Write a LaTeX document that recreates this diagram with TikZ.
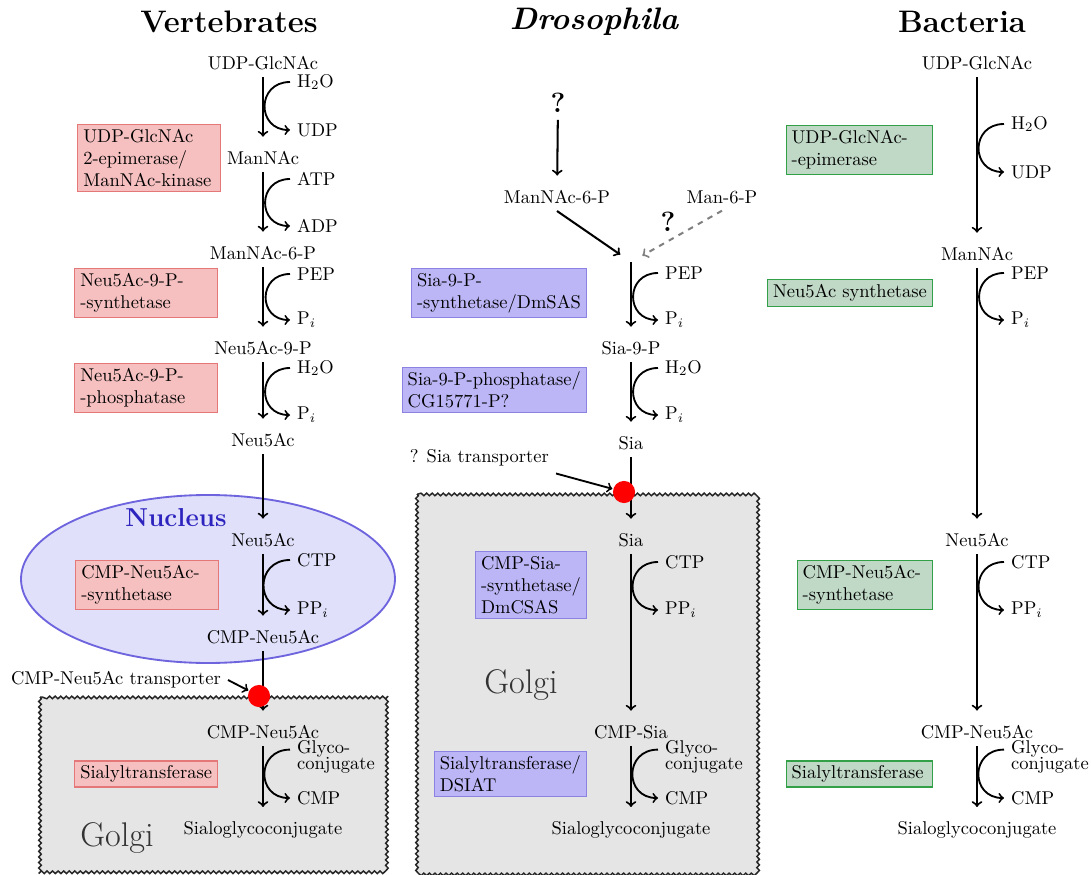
\documentclass[tikz,border=0pt]{standalone}
\usepackage{tikz}
\usetikzlibrary{arrows,decorations.pathmorphing}

\definecolor{vfill}{RGB}{246,192,192}
\definecolor{vline}{RGB}{228,120,120}
\definecolor{dfill}{RGB}{188,182,246}
\definecolor{dline}{RGB}{140,130,226}
\definecolor{bfill}{RGB}{192,216,198}
\definecolor{bline}{RGB}{50,160,70}
\definecolor{nucfill}{RGB}{224,224,250}
\definecolor{nucline}{RGB}{110,100,222}
\definecolor{nucblue}{RGB}{45,35,190}

\begin{document}
\begin{tikzpicture}[x=0.019cm,y=-0.019cm,>=to,line width=1.1pt,
	main/.style={->,shorten >=4pt},
	cof/.style={anchor=west},
	cofactor/.style={->,out=180,in=180,looseness=1.8,line width=1pt},
	enz/.style={draw,align=left,anchor=east,inner xsep=3pt,inner ysep=2.5pt,line width=0.6pt},
	vert/.style={enz,fill=vfill,draw=vline,text width=2.5cm},
	fly/.style={enz,fill=dfill,draw=dline},
	bact/.style={enz,fill=bfill,draw=bline},
	pump/.style={circle,fill=red,inner sep=0pt,minimum size=0.42cm},
	golgi/.style={draw=black!85,fill=black!10,line width=0.8pt,decorate,decoration={snake,segment length=3pt,amplitude=0.7pt}},
	golgilab/.style={font=\fontsize{18.5}{22}\selectfont,text=black!80},
	title/.style={font=\fontsize{16.8}{20}\selectfont\bfseries},
	query/.style={font=\fontsize{15}{18}\selectfont\bfseries}]

\useasboundingbox (0,0) rectangle (1091,875);

% compartments
\draw[fill=nucfill,draw=nucline,line width=1pt] (208,579) ellipse [x radius=187,y radius=84];
\draw[golgi] (40,697) rectangle (388,871);
\draw[golgi] (417,494) rectangle (757,871);
\node[font=\fontsize{14}{17}\selectfont\bfseries,text=nucblue] (nuc) at (176,518) {Nucleus};
\node[golgilab] (vgolgi) at (117,838) {Golgi};
\node[golgilab] (fgolgi) at (521,685) {Golgi};

\node[title] (tvert) at (229,22) {Vertebrates};
\node[title] (tfly) at (594,22) {\itshape Drosophila};
\node[title] (tbact) at (962,22) {Bacteria};

% Vertebrates
\node (vudp) at (263,63) {UDP-GlcNAc};
\node (vman) at (263,158) {ManNAc};
\node (vman6p) at (263,253) {ManNAc-6-P};
\node (vneu9p) at (263,348) {Neu5Ac-9-P};
\node (vneu) at (263,440) {Neu5Ac};
\node (vneun) at (263,540) {Neu5Ac};
\node (vcmpn) at (263,637) {CMP-Neu5Ac};
\node (vcmpg) at (263,732) {CMP-Neu5Ac};
\node (vsialo) at (263,830) {Sialoglycoconjugate};

\node[cof] (vh2oa) at (290,82) {H$_2$O};
\node[cof] (vudpa) at (290,130) {UDP};
\node[cof] (vatp) at (290,179) {ATP};
\node[cof] (vadp) at (290,226) {ADP};
\node[cof] (vpep) at (290,274) {PEP};
\node[cof] (vpia) at (290,320) {P$_i$};
\node[cof] (vh2ob) at (290,368) {H$_2$O};
\node[cof] (vpib) at (290,415) {P$_i$};
\node[cof] (vctp) at (290,560) {CTP};
\node[cof] (vppi) at (290,610) {PP$_i$};
\node[cof,align=left] (vglyc) at (290,757) {Glyco-\\[-3pt]conjugate};
\node[cof] (vcmp) at (290,798) {CMP};

\node[vert] (ve1) at (221,158) {UDP-GlcNAc\\2-epimerase/\\ManNAc-kinase};
\node[vert] (ve2) at (218,293) {Neu5Ac-9-P-\\-synthetase};
\node[vert] (ve3) at (218,388) {Neu5Ac-9-P-\\-phosphatase};
\node[vert] (ve4) at (219,585) {CMP-Neu5Ac-\\-synthetase};
\node[vert] (ve5) at (218,774) {Sialyltransferase};

\path[main] (vudp) edge (vman)
	(vman) edge (vman6p)
	(vman6p) edge (vneu9p)
	(vneu9p) edge (vneu)
	(vneu) edge (vneun)
	(vneun) edge (vcmpn)
	(vcmpn) edge (vcmpg)
	(vcmpg) edge (vsialo);

\path (vh2oa.west) edge[cofactor] (vudpa.west)
	(vatp.west) edge[cofactor] (vadp.west)
	(vpep.west) edge[cofactor] (vpia.west)
	(vh2ob.west) edge[cofactor] (vpib.west)
	(vctp.west) edge[cofactor] (vppi.west)
	([yshift=4pt]vglyc.west) edge[cofactor] (vcmp.west);

\node[pump] (vdot) at (259,696) {};
\node[anchor=east] (vtrans) at (228,680) {CMP-Neu5Ac transporter};
\path[->,line width=1pt] (vtrans.east) edge (vdot);

% Drosophila
\node[query] (fq) at (558,103) {?};
\node (fman6p) at (557,197) {ManNAc-6-P};
\node (fmanp) at (722,197) {Man-6-P};
\node[query] (fq2) at (668,222) {?};
\coordinate (fentry) at (631,262);
\node (fsia9p) at (631,348) {Sia-9-P};
\node (fsia) at (631,443) {Sia};
\node (fsiag) at (631,540) {Sia};
\node (fcmps) at (631,732) {CMP-Sia};
\node (fsialo) at (631,830) {Sialoglycoconjugate};

\node[cof] (fpep) at (658,273) {PEP};
\node[cof] (fpia) at (658,320) {P$_i$};
\node[cof] (fh2o) at (658,368) {H$_2$O};
\node[cof] (fpib) at (658,415) {P$_i$};
\node[cof] (fctp) at (658,562) {CTP};
\node[cof] (fppi) at (658,610) {PP$_i$};
\node[cof,align=left] (fglyc) at (658,757) {Glyco-\\[-3pt]conjugate};
\node[cof] (fcmp) at (658,798) {CMP};

\node[fly] (fe1) at (587,293) {Sia-9-P-\\-synthetase/DmSAS};
\node[fly] (fe2) at (587,390) {Sia-9-P-phosphatase/\\CG15771-P?};
\node[fly] (fe3) at (587,585) {CMP-Sia-\\-synthetase/\\DmCSAS};
\node[fly] (fe4) at (587,774) {Sialyltransferase/\\DSIAT};

\path[main] (fq) edge (fman6p)
	(fman6p.south) edge[shorten >=7pt] (fentry)
	(fmanp.south) edge[dashed,draw=black!50,shorten >=7pt] (fentry)
	(fentry) edge (fsia9p)
	(fsia9p) edge (fsia)
	(fsia) edge (fsiag)
	(fsiag) edge (fcmps)
	(fcmps) edge (fsialo);

\path (fpep.west) edge[cofactor] (fpia.west)
	(fh2o.west) edge[cofactor] (fpib.west)
	(fctp.west) edge[cofactor] (fppi.west)
	([yshift=4pt]fglyc.west) edge[cofactor] (fcmp.west);

\node[pump] (fdot) at (624,492) {};
\node[anchor=east] (ftrans) at (556,458) {? Sia transporter};
\path[->,line width=1pt] (ftrans.south east) edge (fdot);

% Bacteria
\node (budp) at (977,63) {UDP-GlcNAc};
\node (bman) at (977,254) {ManNAc};
\node (bneu) at (977,540) {Neu5Ac};
\node (bcmpn) at (977,732) {CMP-Neu5Ac};
\node (bsialo) at (977,830) {Sialoglycoconjugate};

\node[cof] (bh2o) at (1004,124) {H$_2$O};
\node[cof] (budpa) at (1004,172) {UDP};
\node[cof] (bpep) at (1004,273) {PEP};
\node[cof] (bpi) at (1004,320) {P$_i$};
\node[cof] (bctp) at (1004,562) {CTP};
\node[cof] (bppi) at (1004,610) {PP$_i$};
\node[cof,align=left] (bglyc) at (1004,757) {Glyco-\\[-3pt]conjugate};
\node[cof] (bcmp) at (1004,798) {CMP};

\node[bact,text width=2.57cm] (be1) at (933,150) {UDP-GlcNAc-\\-epimerase};
\node[bact] (be2) at (933,293) {Neu5Ac synthetase};
\node[bact,text width=2.36cm] (be3) at (933,585) {CMP-Neu5Ac-\\-synthetase};
\node[bact,text width=2.57cm] (be4) at (933,774) {Sialyltransferase};

\path[main] (budp) edge (bman)
	(bman) edge (bneu)
	(bneu) edge (bcmpn)
	(bcmpn) edge (bsialo);

\path (bh2o.west) edge[cofactor] (budpa.west)
	(bpep.west) edge[cofactor] (bpi.west)
	(bctp.west) edge[cofactor] (bppi.west)
	([yshift=4pt]bglyc.west) edge[cofactor] (bcmp.west);

\end{tikzpicture}
\end{document}
